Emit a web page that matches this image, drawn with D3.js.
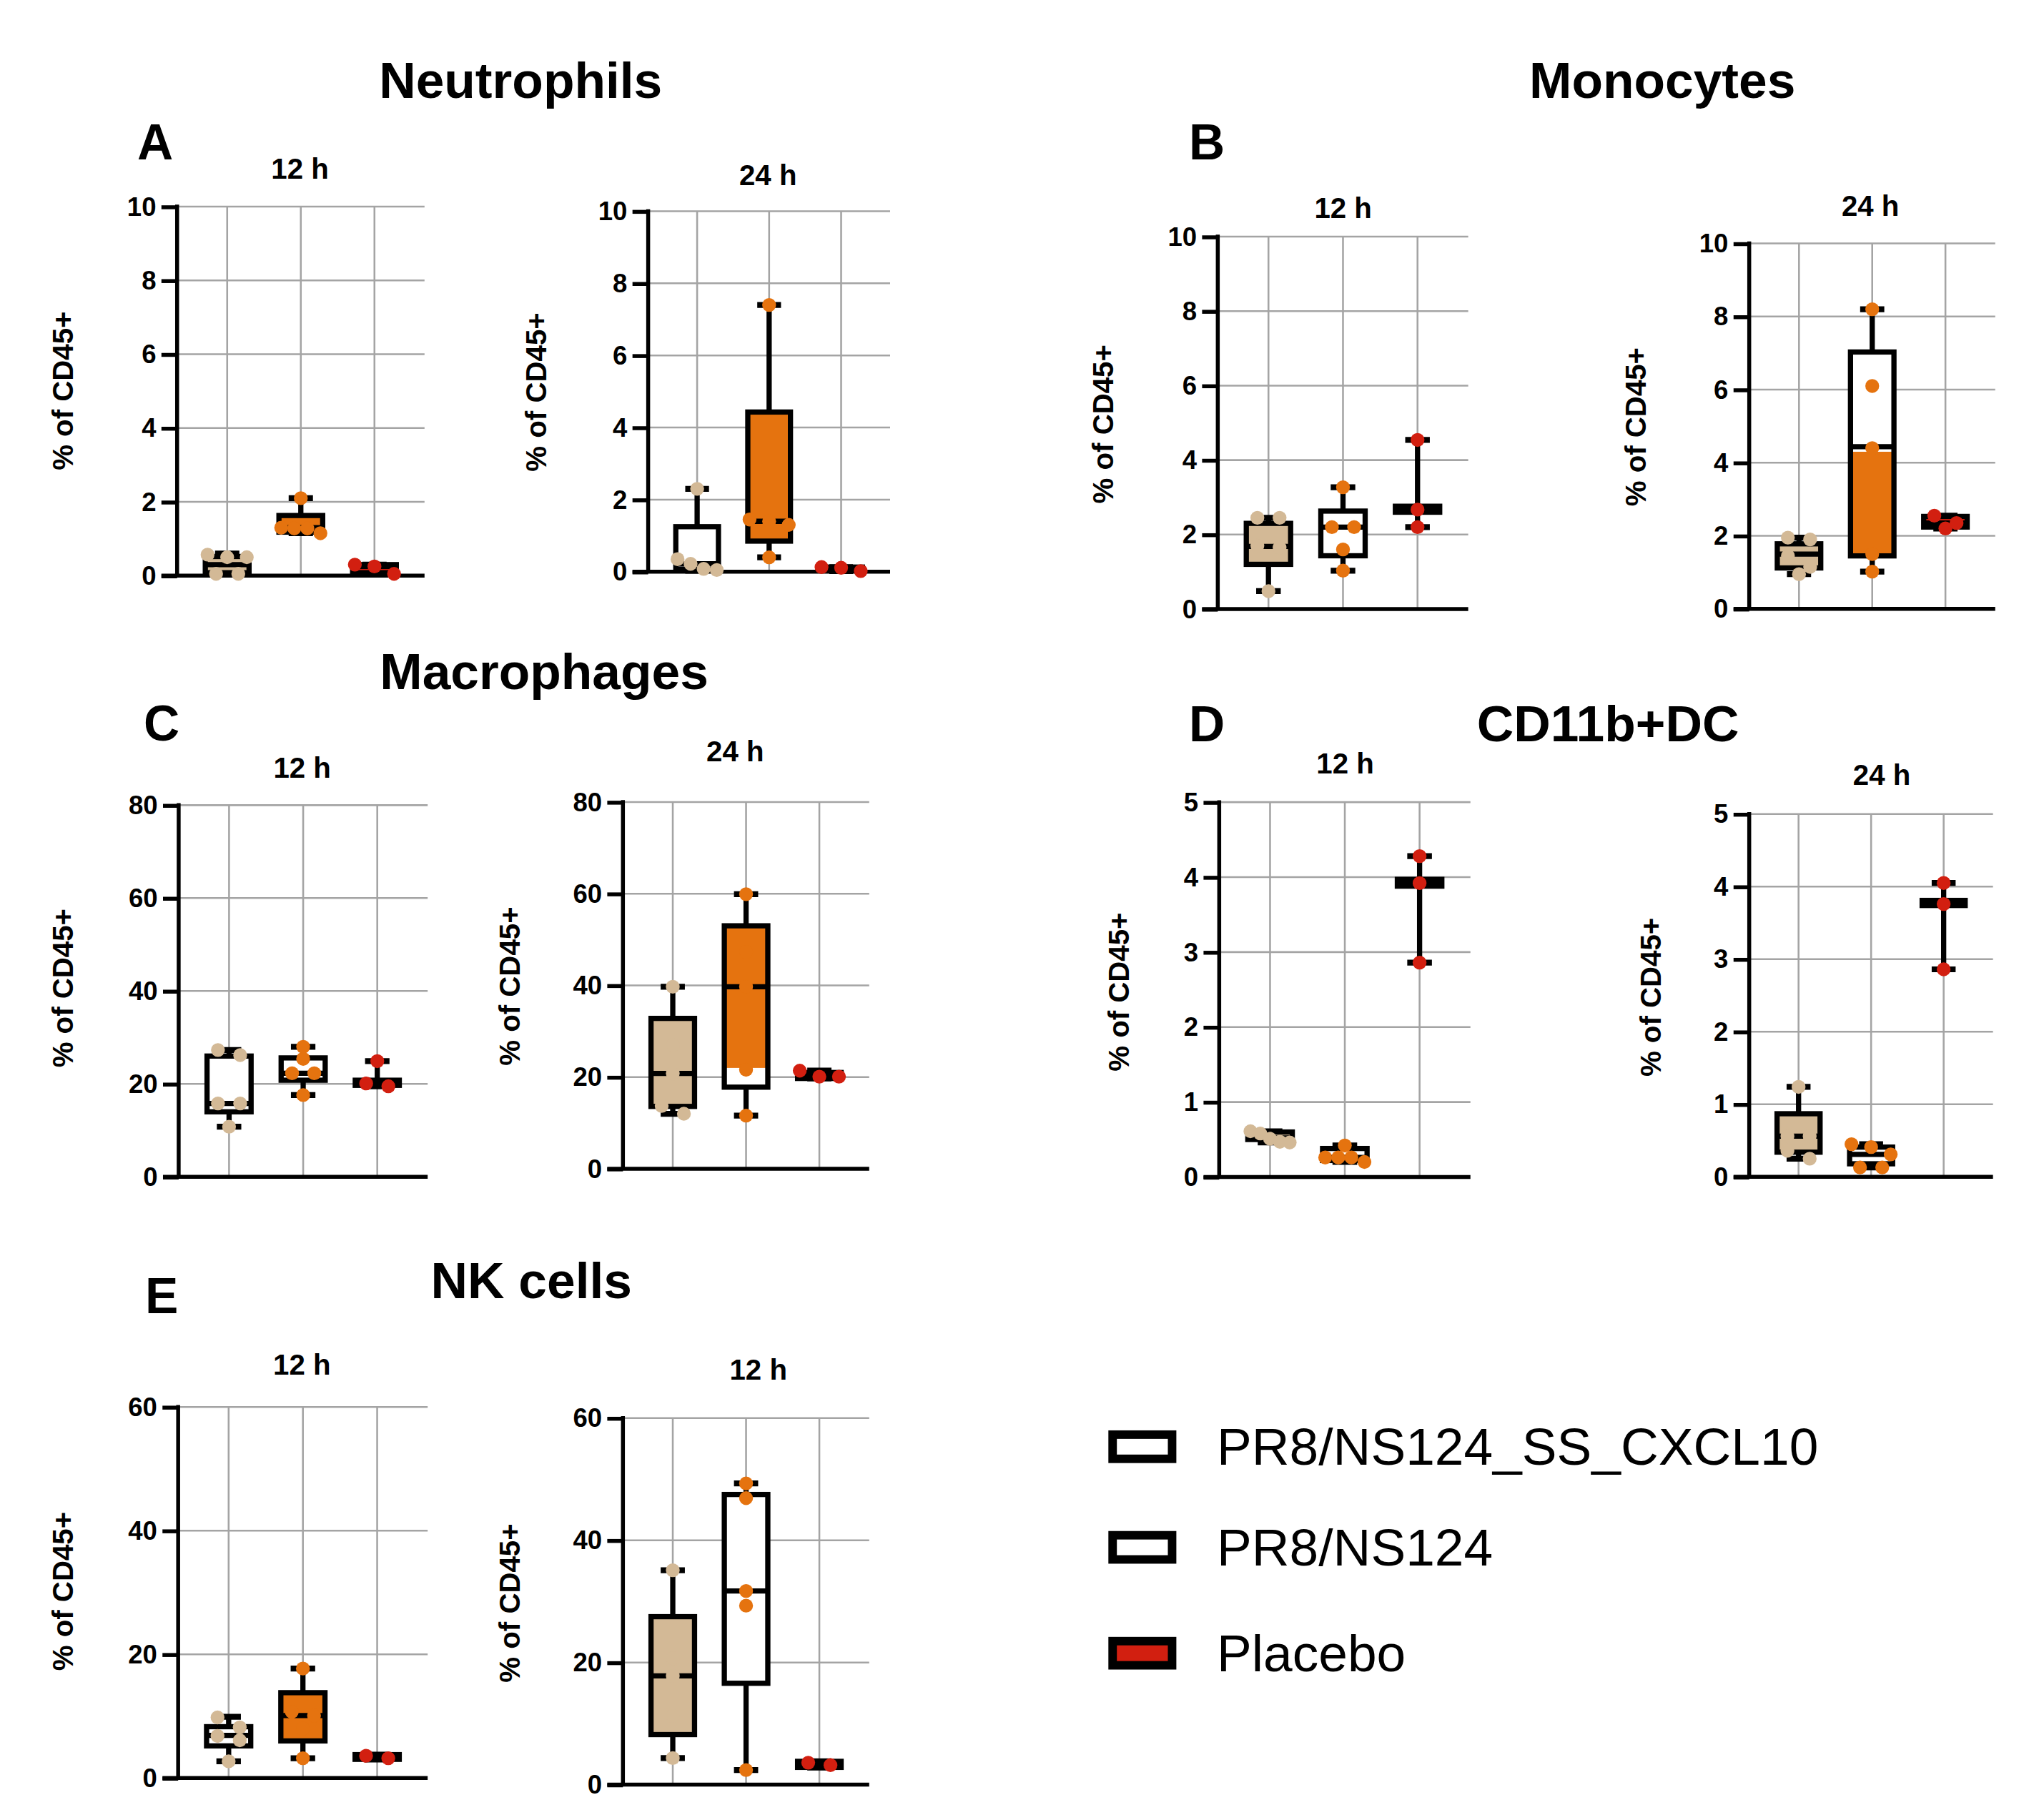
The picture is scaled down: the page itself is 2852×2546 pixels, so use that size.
<!DOCTYPE html>
<html>
<head>
<meta charset="utf-8">
<script src="https://cdn.jsdelivr.net/npm/d3@7"></script>
<style>
  body { margin: 0; background: #fff; }
  svg { display: block; }
  text { font-family: "Liberation Sans", Arial, Helvetica, sans-serif; }
</style>
</head>
<body>
<svg id="figure"></svg>
<script>
/* ================================
   DATA
================================ */

const groups = ["PR8/NS124_SS_CXCL10", "PR8/NS124", "Placebo"];

const ticks10 = [0, 2, 4, 6, 8, 10];
const ticks80 = [0, 20, 40, 60, 80];
const ticks5  = [0, 1, 2, 3, 4, 5];
const ticks60 = [0, 20, 40, 60];

const FULL = "full";

// points per group, box = [min, q1, median, q3, max], fill = FULL | null | [lo, hi]
const neut12Points = [[0.57, 0.5, 0.5, 0.05, 0.05], [2.1, 1.3, 1.28, 1.28, 1.15], [0.05, 0.3, 0.25]];
const neut12Box    = [[0.03, 0.08, 0.3, 0.52, 0.6], [1.15, 1.18, 1.3, 1.63, 2.1], [0.05, 0.08, 0.25, 0.3, 0.3]];
const neut12Fill   = [FULL, FULL, FULL];

const neut24Points = [[2.3, 0.35, 0.22, 0.08, 0.05], [7.4, 1.45, 1.4, 1.3, 0.4], [0.02, 0.13, 0.11]];
const neut24Box    = [[0.03, 0.07, 0.22, 1.25, 2.3], [0.4, 0.85, 1.4, 4.43, 7.4], [0.02, 0.03, 0.11, 0.13, 0.13]];
const neut24Fill   = [null, FULL, FULL];

const mono12Points = [[2.45, 2.45, 1.7, 1.65, 0.48], [3.27, 2.2, 2.2, 1.6, 1.03], [4.54, 2.67, 2.2]];
const mono12Box    = [[0.48, 1.2, 1.68, 2.3, 2.45], [1.03, 1.43, 2.2, 2.63, 3.27], [2.2, 2.6, 2.67, 2.76, 4.54]];
const mono12Fill   = [FULL, null, FULL];

const mono24Points = [[1.95, 1.9, 1.45, 1.15, 0.95], [8.2, 6.1, 4.4, 1.5, 1.02], [2.55, 2.35, 2.2]];
const mono24Box    = [[0.95, 1.12, 1.5, 1.78, 1.95], [1.02, 1.45, 4.44, 7.03, 8.2], [2.2, 2.24, 2.35, 2.53, 2.55]];
const mono24Fill   = [FULL, [1.5, 4.3], FULL];

const macro12Points = [[27.3, 26.2, 15.8, 15.8, 10.8], [28, 25.4, 22.3, 22.3, 17.6], [24.9, 20.1, 19.5]];
const macro12Box    = [[10.8, 14, 15.8, 26, 27.3], [17.6, 20.8, 22.3, 25.6, 28], [19.5, 19.7, 20.1, 20.8, 24.9]];
const macro12Fill   = [null, null, FULL];

const macro24Points = [[39.7, 27, 20.8, 13.7, 12], [59.9, 47.3, 39.7, 21.6, 11.6], [21.4, 20.1, 20.1]];
const macro24Box    = [[12, 13.6, 20.8, 32.8, 39.7], [11.6, 17.8, 39.7, 53, 59.9], [19.7, 19.7, 20.3, 21, 21.4]];
const macro24Fill   = [FULL, [22, 53], FULL];

const dc12Points = [[0.61, 0.58, 0.51, 0.47, 0.46], [0.42, 0.26, 0.26, 0.26, 0.2], [4.28, 3.92, 2.86]];
const dc12Box    = [[0.46, 0.5, 0.52, 0.6, 0.61], [0.2, 0.22, 0.26, 0.38, 0.42], [2.86, 3.88, 3.92, 3.97, 4.28]];
const dc12Fill   = [FULL, null, FULL];

const dc24Points = [[1.24, 0.56, 0.56, 0.36, 0.25], [0.45, 0.41, 0.31, 0.13, 0.13], [4.05, 3.76, 2.86]];
const dc24Box    = [[0.25, 0.34, 0.56, 0.87, 1.24], [0.13, 0.18, 0.31, 0.41, 0.45], [2.86, 3.74, 3.76, 3.81, 4.05]];
const dc24Fill   = [FULL, null, FULL];

const nkAPoints = [[9.8, 8.2, 6.8, 6.1, 2.7], [17.7, 10.7, 10.1, 8, 3.2], [3.6, 3.2]];
const nkABox    = [[2.7, 5.2, 6.9, 8.3, 9.9], [3.2, 6, 10.1, 13.8, 17.7], [3.0, 3.02, 3.3, 3.78, 3.78]];
const nkAFill   = [null, FULL, FULL];

const nkBPoints = [[35.1, 20.7, 17.8, 11.25, 4.35], [49.3, 46.9, 31.7, 29.3, 2.4], [3.6, 3.2]];
const nkBBox    = [[4.35, 8.2, 17.8, 27.5, 35.1], [2.4, 16.6, 31.7, 47.5, 49.3], [2.8, 2.83, 3.2, 3.82, 3.82]];
const nkBFill   = [FULL, null, FULL];

/* ================================
   SETUP
================================ */

const W = 1560, H = W * 2546 / 2852;
const svg = d3.select("#figure")
  .attr("width", 2852)
  .attr("height", 2546)
  .attr("viewBox", `0 0 ${W} ${H}`);

const colors = ["#d3b996", "#e5730f", "#d21f10"];
const gridColor = "#a4a4a4";
const dotR = 5.3;

const panels = [
  { label: "12 h", tx: 229.5, ty: 136.6, x0: 135.5, x1: 324.8, yTop: 158.1, y0: 440.5, lx: 47.6,   ly: 299,   ticks: ticks10, pts: neut12Points, box: neut12Box, fill: neut12Fill },
  { label: "24 h", tx: 587.6, ty: 141.4, x0: 495.9, x1: 681,   yTop: 161.6, y0: 437.5, lx: 409.7,  ly: 300,   ticks: ticks10, pts: neut24Points, box: neut24Box, fill: neut24Fill },
  { label: "12 h", tx: 1027.6, ty: 166.7, x0: 931.7, x1: 1123.3, yTop: 181.1, y0: 466, lx: 843.7, ly: 324.5, ticks: ticks10, pts: mono12Points, box: mono12Box, fill: mono12Fill },
  { label: "24 h", tx: 1431, ty: 165.1, x0: 1338.3, x1: 1526.5, yTop: 186.3, y0: 465.9, lx: 1251, ly: 326.6, ticks: ticks10, pts: mono24Points, box: mono24Box, fill: mono24Fill },
  { label: "12 h", tx: 231.2, ty: 595.2, x0: 136.7, x1: 327.2, yTop: 616.1, y0: 900.5, lx: 47.6,   ly: 756,   ticks: ticks80, pts: macro12Points, box: macro12Box, fill: macro12Fill },
  { label: "24 h", tx: 562.5, ty: 582.5, x0: 476.6, x1: 665,   yTop: 613.7, y0: 894.3, lx: 389.7,  ly: 754.6, ticks: ticks80, pts: macro24Points, box: macro24Box, fill: macro24Fill },
  { label: "12 h", tx: 1029.2, ty: 591.7, x0: 932.8, x1: 1125, yTop: 613.8, y0: 900.6, lx: 856,    ly: 759,   ticks: ticks5,  pts: dc12Points, box: dc12Box, fill: dc12Fill },
  { label: "24 h", tx: 1439.7, ty: 600.4, x0: 1338.3, x1: 1524.8, yTop: 622.9, y0: 900.5, lx: 1262.8, ly: 763, ticks: ticks5, pts: dc24Points, box: dc24Box, fill: dc24Fill },
  { label: "12 h", tx: 231, ty: 1051.6, x0: 136.3, x1: 327.2, yTop: 1076.6, y0: 1360.5, lx: 47.6,  ly: 1217.6, ticks: ticks60, pts: nkAPoints, box: nkABox, fill: nkAFill },
  { label: "12 h", tx: 580.2, ty: 1055.7, x0: 476.6, x1: 665,  yTop: 1085.1, y0: 1365.6, lx: 389.7, ly: 1226.6, ticks: ticks60, pts: nkBPoints, box: nkBBox, fill: nkBFill }
];

const headings = [
  { text: "Neutrophils", x: 290,   y: 75.2 },
  { text: "Monocytes",   x: 1170,  y: 75.2 },
  { text: "Macrophages", x: 290.6, y: 527.4 },
  { text: "CD11b+DC",    x: 1130,  y: 567.2 },
  { text: "NK cells",    x: 329.6, y: 993.3 }
];

const letters = [
  { text: "A", x: 105,   y: 122 },
  { text: "B", x: 909.7, y: 122 },
  { text: "C", x: 110,   y: 566.5 },
  { text: "D", x: 909.7, y: 567.3 },
  { text: "E", x: 111,   y: 1005 }
];

/* ================================
   SWARM LAYOUT (points of similar value side by side)
================================ */

function swarm(values, y) {
  const items = values.map(v => ({ v, py: y(v) })).sort((a, b) => a.py - b.py);
  const clusters = [];
  let cur = [];
  items.forEach(it => {
    if (cur.length && it.py - cur[0].py > 9) { clusters.push(cur); cur = []; }
    cur.push(it);
  });
  if (cur.length) clusters.push(cur);
  clusters.forEach(c => {
    const k = c.length;
    const step = k > 1 ? Math.min(17, 30 / (k - 1)) : 0;
    c.forEach((it, j) => it.dx = (j - (k - 1) / 2) * step);
  });
  return items;
}

/* ================================
   PANELS
================================ */

function drawPanel(p) {
  const g = svg.append("g");

  const x = d3.scalePoint().domain(groups).range([p.x0, p.x1]).padding(0.68);
  const y = d3.scaleLinear().domain([0, d3.max(p.ticks)]).range([p.y0, p.yTop]);
  const step = x.step();
  const bw = step * 0.665 - 4;
  const capW = step * 0.33;

  // gridlines
  g.append("g")
    .selectAll("line")
    .data(p.ticks.filter(t => t > 0))
    .join("line")
    .attr("x1", p.x0).attr("x2", p.x1)
    .attr("y1", d => y(d)).attr("y2", d => y(d))
    .attr("stroke", gridColor).attr("stroke-width", 1.4);

  g.append("g")
    .selectAll("line")
    .data(groups)
    .join("line")
    .attr("x1", d => x(d)).attr("x2", d => x(d))
    .attr("y1", p.yTop).attr("y2", p.y0)
    .attr("stroke", gridColor).attr("stroke-width", 1.4);

  // y axis
  const yAxis = g.append("g")
    .attr("transform", `translate(${p.x0},0)`)
    .call(d3.axisLeft(y).tickValues(p.ticks).tickSize(12).tickSizeOuter(0).tickPadding(4).tickFormat(d3.format("d")));
  yAxis.select(".domain").remove();
  yAxis.selectAll(".tick line").attr("stroke", "#000").attr("stroke-width", 3);
  yAxis.selectAll(".tick text")
    .attr("fill", "#000")
    .style("font-size", "20px")
    .style("font-weight", "700");

  g.append("line")
    .attr("x1", p.x0).attr("x2", p.x0)
    .attr("y1", p.yTop - 1.5).attr("y2", p.y0)
    .attr("stroke", "#000").attr("stroke-width", 3);

  g.append("line")
    .attr("x1", p.x0 - 12).attr("x2", p.x1)
    .attr("y1", p.y0).attr("y2", p.y0)
    .attr("stroke", "#000").attr("stroke-width", 3);

  // boxes
  groups.forEach((name, i) => {
    const [mn, q1, md, q3, mx] = p.box[i];
    const cx = x(name);
    const bg = g.append("g");

    bg.append("rect")
      .attr("x", cx - bw / 2).attr("y", y(q3))
      .attr("width", bw).attr("height", y(q1) - y(q3))
      .attr("fill", "#fff");

    const f = p.fill[i];
    if (f) {
      const [lo, hi] = f === FULL ? [q1, q3] : f;
      bg.append("rect")
        .attr("x", cx - bw / 2).attr("y", y(hi))
        .attr("width", bw).attr("height", y(lo) - y(hi))
        .attr("fill", colors[i]);
    }

    bg.append("line")
      .attr("x1", cx).attr("x2", cx).attr("y1", y(q3)).attr("y2", y(mx))
      .attr("stroke", "#000").attr("stroke-width", 4);
    bg.append("line")
      .attr("x1", cx).attr("x2", cx).attr("y1", y(q1)).attr("y2", y(mn))
      .attr("stroke", "#000").attr("stroke-width", 4);

    [mx, mn].forEach(v => {
      bg.append("line")
        .attr("x1", cx - capW / 2).attr("x2", cx + capW / 2)
        .attr("y1", y(v)).attr("y2", y(v))
        .attr("stroke", "#000").attr("stroke-width", 4.5);
    });

    bg.append("rect")
      .attr("x", cx - bw / 2).attr("y", y(q3))
      .attr("width", bw).attr("height", y(q1) - y(q3))
      .attr("fill", "none")
      .attr("stroke", "#000").attr("stroke-width", 4);

    bg.append("line")
      .attr("x1", cx - bw / 2).attr("x2", cx + bw / 2)
      .attr("y1", y(md)).attr("y2", y(md))
      .attr("stroke", "#000").attr("stroke-width", 4);
  });

  // points
  groups.forEach((name, i) => {
    g.append("g")
      .selectAll("circle")
      .data(swarm(p.pts[i], y))
      .join("circle")
      .attr("cx", d => x(name) + d.dx)
      .attr("cy", d => d.py)
      .attr("r", dotR)
      .attr("fill", colors[i]);
  });

  // titles
  g.append("text")
    .attr("x", p.tx).attr("y", p.ty)
    .attr("text-anchor", "middle")
    .style("font-size", "22px")
    .style("font-weight", "700")
    .text(p.label);

  g.append("text")
    .attr("transform", `translate(${p.lx},${p.ly}) rotate(-90)`)
    .attr("text-anchor", "middle")
    .attr("dy", "0.36em")
    .style("font-size", "22px")
    .style("font-weight", "700")
    .text("% of CD45+");
}

panels.forEach(drawPanel);

/* ================================
   HEADINGS + LETTERS
================================ */

svg.append("g")
  .selectAll("text")
  .data(headings)
  .join("text")
  .attr("x", d => d.x).attr("y", d => d.y)
  .style("font-size", "39px")
  .style("font-weight", "700")
  .text(d => d.text);

svg.append("g")
  .selectAll("text")
  .data(letters)
  .join("text")
  .attr("x", d => d.x).attr("y", d => d.y)
  .style("font-size", "38px")
  .style("font-weight", "700")
  .text(d => d.text);

/* ================================
   LEGEND
================================ */

const legendRows = [1107, 1184, 1265];
const legendFills = ["#fff", "#fff", colors[2]];

const legend = svg.append("g");
groups.forEach((name, i) => {
  const cy = legendRows[i];
  legend.append("rect")
    .attr("x", 851.25).attr("y", cy - 9.25)
    .attr("width", 45.5).attr("height", 18.5)
    .attr("fill", legendFills[i])
    .attr("stroke", "#000").attr("stroke-width", 6.5);
  legend.append("text")
    .attr("x", 931).attr("y", cy + 14)
    .style("font-size", "40px")
    .text(name);
});
</script>
</body>
</html>
